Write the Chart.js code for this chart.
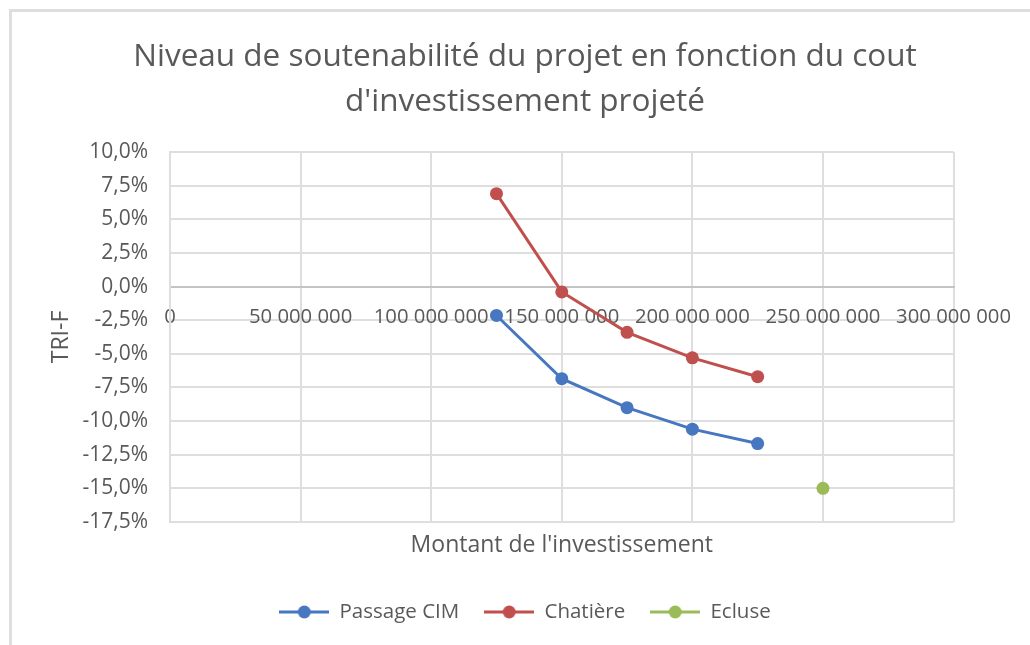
<!DOCTYPE html>
<html>
<head>
<meta charset="utf-8">
<script src="https://cdn.jsdelivr.net/npm/chart.js@4/dist/chart.umd.min.js"></script>
<style>
  body { margin: 0; background: #fff; }
  #wrap { position: relative; width: 1030px; height: 645px; overflow: hidden; }
  #cadre { position: absolute; left: 9px; top: 9px; width: 1100px; height: 700px;
           border-left: 3px solid #dedede; border-top: 3px solid #dedede; }
  #graf { position: absolute; left: 0; top: 0; }
</style>
</head>
<body>
<div id="wrap">
  <div id="cadre"></div>
  <canvas id="graf" width="1030" height="645"></canvas>
</div>
<script>
// Données
const montants = [125000000, 150000000, 175000000, 200000000, 225000000];
const passageCIM = [-0.0215, -0.0685, -0.090, -0.106, -0.1167];
const chatiere = [0.069, -0.004, -0.034, -0.053, -0.067];
const montantsEcluse = [250000000];
const ecluse = [-0.150];

const ticksX = [0, 50000000, 100000000, 150000000, 200000000, 250000000, 300000000];
const ticksY = [0.1, 0.075, 0.05, 0.025, 0, -0.025, -0.05, -0.075, -0.1, -0.125, -0.15, -0.175];

const BLEU = '#4677C0';
const ROUGE = '#C0504D';
const VERT = '#9BBB59';
const GRIS_TEXTE = '#595959';
const POLICE = "'Open Sans'";

function points(xs, ys) {
  return xs.map((x, i) => ({ x: x, y: ys[i] }));
}

function formatMontant(v) {
  return String(Math.round(v)).replace(/\B(?=(\d{3})+(?!\d))/g, ' ');
}

function formatPct(v) {
  return (v * 100).toFixed(1).replace('.', ',') + '%';
}

// petite image "trait + rond" pour la légende
function iconeLegende(couleur) {
  const c = document.createElement('canvas');
  c.width = 50; c.height = 16;
  const ctx = c.getContext('2d');
  ctx.strokeStyle = couleur;
  ctx.lineWidth = 3;
  ctx.beginPath(); ctx.moveTo(0, 8); ctx.lineTo(50, 8); ctx.stroke();
  ctx.fillStyle = couleur;
  ctx.beginPath(); ctx.arc(25, 8, 6.5, 0, Math.PI * 2); ctx.fill();
  return c;
}

const series = [
  { label: 'Passage CIM', data: points(montants, passageCIM), couleur: BLEU },
  { label: 'Chatière', data: points(montants, chatiere), couleur: ROUGE },
  { label: 'Ecluse', data: points(montantsEcluse, ecluse), couleur: VERT },
];

new Chart(document.getElementById('graf'), {
  type: 'line',
  data: {
    datasets: series.map((s) => ({
      label: s.label,
      data: s.data,
      borderColor: s.couleur,
      backgroundColor: s.couleur,
      borderWidth: 3,
      pointRadius: 6.5,
      pointHoverRadius: 6.5,
      pointBorderWidth: 0,
      tension: 0,
      fill: false,
    })),
  },
  options: {
    responsive: false,
    animation: false,
    layout: { padding: { left: 20, right: 0, top: 0, bottom: 12.75 } },
    plugins: {
      tooltip: { enabled: false },
      title: {
        display: true,
        text: ['Niveau de soutenabilité du projet en fonction du cout', "d'investissement projeté"],
        color: GRIS_TEXTE,
        font: { family: POLICE, size: 31.5, weight: 'normal', lineHeight: 1.43 },
        padding: { top: 34.5, bottom: 27.4 },
      },
      legend: {
        position: 'bottom',
        labels: {
          usePointStyle: true,
          pointStyleWidth: 50,
          padding: 25,
          color: GRIS_TEXTE,
          font: { family: POLICE, size: 20.5 },
          generateLabels: (chart) => series.map((s, i) => ({
            text: s.label,
            fontColor: GRIS_TEXTE,
            pointStyle: iconeLegende(s.couleur),
            datasetIndex: i,
            lineWidth: 0,
            hidden: false,
          })),
        },
      },
    },
    scales: {
      x: {
        type: 'linear',
        position: { y: 0 },
        min: 0,
        max: 300000000,
        afterBuildTicks: (scale) => { scale.ticks = ticksX.map((v) => ({ value: v })); },
        ticks: {
          padding: 19,
          color: GRIS_TEXTE,
          font: { family: POLICE, size: 20.3 },
          maxRotation: 0,
          autoSkip: false,
          callback: (v) => formatMontant(v),
        },
        grid: { color: '#dedede', lineWidth: 2, drawTicks: false, tickLength: 0 },
        border: { color: '#c4c4c4', width: 2 },
      },
      xTitre: {
        type: 'linear',
        position: 'bottom',
        min: 0,
        max: 300000000,
        ticks: { display: false },
        grid: { display: false, drawTicks: false },
        border: { display: false },
        title: {
          display: true,
          text: "Montant de l'investissement",
          color: GRIS_TEXTE,
          font: { family: POLICE, size: 23 },
          padding: { top: 9.2, bottom: 17.95 },
        },
      },
      y: {
        min: -0.175,
        max: 0.1,
        afterBuildTicks: (scale) => { scale.ticks = ticksY.map((v) => ({ value: v })); },
        afterFit: (scale) => { scale.width = 150; },
        ticks: {
          padding: 22,
          color: GRIS_TEXTE,
          font: { family: POLICE, size: 21 },
          callback: (v) => formatPct(v),
        },
        grid: { color: '#dedede', lineWidth: 2, drawTicks: false, tickLength: 0 },
        border: { color: '#dedede', width: 2 },
        title: {
          display: true,
          text: 'TRI-F',
          color: GRIS_TEXTE,
          font: { family: POLICE, size: 23 },
          padding: { top: 28 },
        },
      },
      yVide: {
        position: 'right',
        ticks: { display: false },
        grid: { display: false, drawTicks: false },
        border: { display: false },
        afterFit: (scale) => { scale.width = 70; },
      },
    },
  },
});
</script>
</body>
</html>
